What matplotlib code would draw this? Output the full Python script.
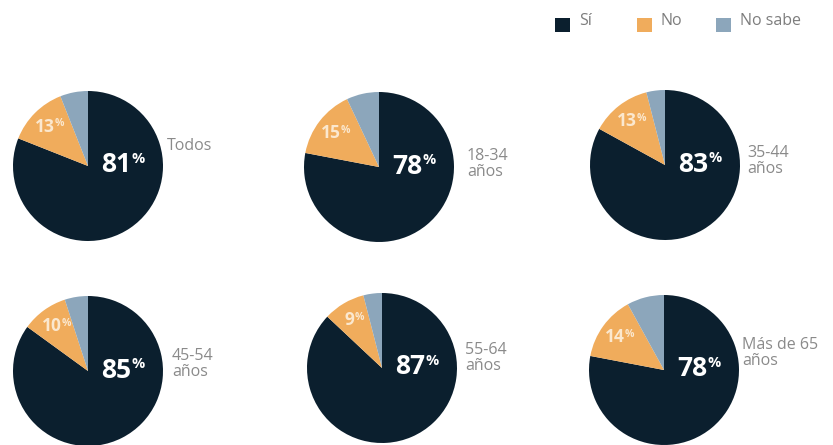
import numpy as np
import matplotlib.pyplot as plt

plt.rcParams['font.family'] = ['Open Sans', 'DejaVu Sans']

# Datos (porcentajes)
grupos = ['Todos', '18-34\naños', '35-44\naños', '45-54\naños', '55-64\naños', 'Más de 65\naños']
si = [81, 78, 83, 85, 87, 78]
no = [13, 15, 13, 10, 9, 14]
no_sabe = [6, 7, 4, 5, 4, 8]
leyenda = ['Sí', 'No', 'No sabe']

colores = ['#0b1f2e', '#f0ac5c', '#8ca6bb']
gris = '#8a8a8a'

W, H = 833, 445
# posiciones en pixeles (centro de cada tarta y del texto de grupo)
centros = [(88, 166), (379, 167), (665, 165), (88, 371), (382, 368), (664, 370)]
etiqueta_xy = [(167, 146), (467, 164), (747, 161), (172, 364), (465, 358), (742, 353)]
R = 75

fig = plt.figure(figsize=(W / 100, H / 100), dpi=100)
ax = fig.add_axes([0, 0, 1, 1])

for i, grupo in enumerate(grupos):
    cx, cy = centros[i]
    vals = [si[i], no[i], no_sabe[i]]
    ax.pie(vals, center=(cx, H - cy), radius=R, startangle=90, counterclock=False,
           colors=colores, wedgeprops=dict(linewidth=0))

    # etiqueta grande (Sí)
    t = ax.text(cx + 13, H - cy + 1, str(si[i]), color='white', fontsize=19,
                fontweight='bold', ha='left', va='center')
    ax.annotate('%', xy=(1.0, 0.97), xycoords=t, color='white', fontsize=10.5,
                fontweight='bold', ha='left', va='top')

    # etiqueta pequeña (No) en el centro de su porción
    ang = np.deg2rad(90 + 360 * (no_sabe[i] + no[i] / 2) / 100)
    px = cx + 0.74 * R * np.cos(ang)
    py = H - cy + 0.74 * R * np.sin(ang)
    t2 = ax.text(px - 4, py, str(no[i]), color='#fbe8cf', fontsize=12.5,
                 fontweight='bold', ha='center', va='center')
    ax.annotate('%', xy=(1.0, 0.97), xycoords=t2, color='#fbe8cf', fontsize=7.5,
                fontweight='bold', ha='left', va='top')

    lx, ly = etiqueta_xy[i]
    ax.text(lx, H - ly, grupo, color=gris, fontsize=11.5, ha='left', va='center',
            linespacing=1.05)

# leyenda
leg_x = [555, 637, 716]
for x, lab, c in zip(leg_x, leyenda, colores):
    ax.add_patch(plt.Rectangle((x, H - 32), 15, 14, color=c, lw=0))
    ax.text(x + 24, H - 21, lab, color='#7d7d7d', fontsize=11.5, ha='left', va='center')

ax.set_xlim(0, W)
ax.set_ylim(0, H)
ax.set_aspect('equal')
ax.axis('off')

plt.savefig('out.png', dpi=100)
